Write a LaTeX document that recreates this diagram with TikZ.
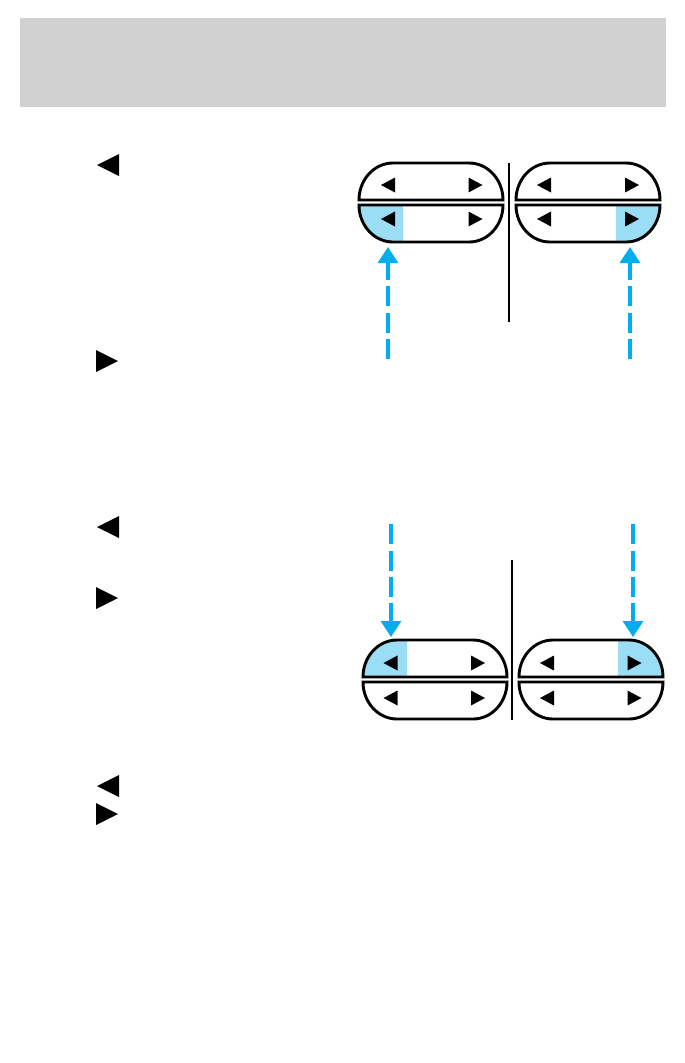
\documentclass[tikz,border=0pt]{standalone}
\usepackage{tikz}
\usetikzlibrary{arrows.meta}
\definecolor{hlblue}{RGB}{155,221,245}
\definecolor{arrowblue}{RGB}{0,174,239}
\definecolor{headgray}{RGB}{209,209,209}

\begin{document}
\begin{tikzpicture}[x=0.02cm,y=-0.02cm,
			button/.style={draw=black,line width=0.058cm},
			lit/.style={fill=hlblue},
			divider/.style={draw=black,line width=0.045cm},
			pointer/.style={draw=arrowblue,line width=0.065cm,dash pattern=on 0.4cm off 0.13cm,-{Triangle[width=0.4cm,length=0.32cm]}},
			tri/.style={fill=black}]
			\useasboundingbox (0,0) rectangle (684,1063);
			% grey header band
			\fill [headgray] (20,18) rectangle (666,107);
			% lit halves of the buttons
			\fill [lit] (403,205) -- (359,205) arc[start angle=180,end angle=90,x radius=34,y radius=37] -- (403,242) -- cycle;
			\fill [lit] (616,205) -- (616,242) -- (626,242) arc[start angle=90,end angle=0,x radius=34,y radius=37] -- cycle;
			\fill [lit] (407,677) -- (363,677) arc[start angle=180,end angle=270,x radius=34,y radius=37] -- (407,640) -- cycle;
			\fill [lit] (618,677) -- (618,640) -- (629,640) arc[start angle=270,end angle=360,x radius=34,y radius=37] -- cycle;
			% button pairs
			\foreach \bx/\by in {359/163,516/163,363/640,519/640}{
				\draw [button] (\bx,\by+37) arc[start angle=180,end angle=270,x radius=34,y radius=37] -- (\bx+110,\by) arc[start angle=270,end angle=360,x radius=34,y radius=37] -- cycle;
				\draw [button] (\bx,\by+42) arc[start angle=180,end angle=90,x radius=34,y radius=37] -- (\bx+110,\by+79) arc[start angle=90,end angle=0,x radius=34,y radius=37] -- cycle;
			}
			% small arrows on the buttons
			\foreach \cx/\cy in {388/185,388/219,544/185,544/219,390.5/663,390.5/698,547/663,547/698}
				\fill [tri] (\cx-7,\cy) -- (\cx+7,\cy-7.5) -- (\cx+7,\cy+7.5) -- cycle;
			\foreach \cx/\cy in {475.5/185,475.5/219,632/185,632/219,478/663,478/698,634.5/663,634.5/698}
				\fill [tri] (\cx+7,\cy) -- (\cx-7,\cy-7.5) -- (\cx-7,\cy+7.5) -- cycle;
			% arrows in the left column
			\foreach \cx/\cy in {108/165,108/527,108/786}
				\fill [tri] (\cx-11,\cy) -- (\cx+11,\cy-11) -- (\cx+11,\cy+11) -- cycle;
			\foreach \cx/\cy in {107/361,107/598,107/814}
				\fill [tri] (\cx+11,\cy) -- (\cx-11,\cy-11) -- (\cx-11,\cy+11) -- cycle;
			% dividers
			\draw [divider] (509,163) -- (509,322);
			\draw [divider] (512,560) -- (512,720);
			% blue pointers
			\coordinate (upLtail) at (388,359);
			\coordinate (upLtip) at (388,247);
			\coordinate (upRtail) at (630,359);
			\coordinate (upRtip) at (630,247);
			\coordinate (dnLtail) at (391,524);
			\coordinate (dnLtip) at (391,637);
			\coordinate (dnRtail) at (633,524);
			\coordinate (dnRtip) at (633,637);
			\draw [pointer] (upLtail) -- (upLtip);
			\draw [pointer] (upRtail) -- (upRtip);
			\draw [pointer] (dnLtail) -- (dnLtip);
			\draw [pointer] (dnRtail) -- (dnRtip);
		\end{tikzpicture}
\end{document}
